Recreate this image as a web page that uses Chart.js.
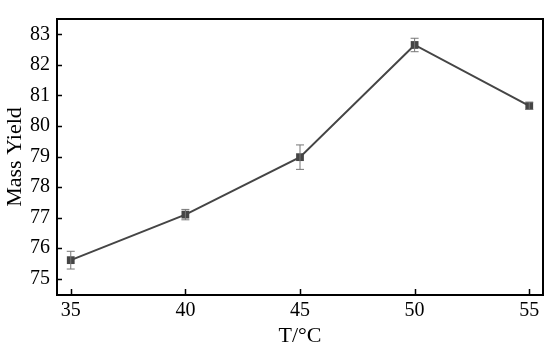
<!DOCTYPE html>
<html>
<head>
<meta charset="utf-8">
<script src="https://cdn.jsdelivr.net/npm/chart.js@4"></script>
<style>
  html, body { margin: 0; padding: 0; background: #fff; }
  #wrap { width: 550px; height: 350px; }
</style>
</head>
<body>
<div id="wrap"><canvas id="yieldChart"></canvas></div>
<script>
var temps = [35, 40, 45, 50, 55];
var massYield = [75.61, 77.1, 78.98, 82.65, 80.66];
var yieldErr = [0.29, 0.17, 0.4, 0.22, 0.12];
var xTicks = [35, 40, 45, 50, 55];
var yTicks = [75, 76, 77, 78, 79, 80, 81, 82, 83];

var fontFamily = "'Liberation Serif', 'Times New Roman', serif";
Chart.defaults.font.family = fontFamily;
Chart.defaults.color = '#000';

// error bars, then the box frame with inward ticks
var framePlugin = {
    id: 'framePlugin',
    afterDatasetsDraw: function (chart) {
        var ctx = chart.ctx;
        var x = chart.scales.x, y = chart.scales.y;
        ctx.save();
        ctx.strokeStyle = '#777';
        ctx.lineWidth = 1;
        for (var i = 0; i < temps.length; i++) {
            var px = x.getPixelForValue(temps[i]);
            var top = y.getPixelForValue(massYield[i] + yieldErr[i]);
            var bot = y.getPixelForValue(massYield[i] - yieldErr[i]);
            ctx.beginPath();
            ctx.moveTo(px, top); ctx.lineTo(px, bot);
            ctx.moveTo(px - 4, top); ctx.lineTo(px + 4, top);
            ctx.moveTo(px - 4, bot); ctx.lineTo(px + 4, bot);
            ctx.stroke();
        }
        ctx.restore();
    },
    afterDraw: function (chart) {
        var ctx = chart.ctx;
        var x = chart.scales.x, y = chart.scales.y;
        var a = chart.chartArea;
        ctx.save();
        ctx.strokeStyle = '#000';
        ctx.lineWidth = 2;
        ctx.strokeRect(a.left, a.top, a.right - a.left, a.bottom - a.top);
        ctx.lineWidth = 1.5;
        ctx.beginPath();
        xTicks.forEach(function (t) {
            var px = Math.round(x.getPixelForValue(t)) + 0.5;
            ctx.moveTo(px, a.bottom); ctx.lineTo(px, a.bottom - 6);
        });
        yTicks.forEach(function (t) {
            var py = Math.round(y.getPixelForValue(t)) + 0.5;
            ctx.moveTo(a.left, py); ctx.lineTo(a.left + 5, py);
        });
        ctx.stroke();
        ctx.restore();
    }
};

var ctx = document.getElementById('yieldChart').getContext('2d');
var chart = new Chart(ctx, {
    type: 'line',
    data: {
        datasets: [{
            label: 'Mass Yield',
            data: temps.map(function (t, i) { return { x: t, y: massYield[i] }; }),
            borderColor: '#454545',
            backgroundColor: '#454545',
            borderWidth: 2,
            pointStyle: 'rect',
            pointRadius: 5.5,
            pointBorderWidth: 0,
            tension: 0
        }]
    },
    options: {
        responsive: true,
        maintainAspectRatio: false,
        animation: false,
        layout: { padding: { top: 10, right: 7, left: 0, bottom: 0 } },
        plugins: {
            legend: { display: false },
            tooltip: { enabled: false }
        },
        scales: {
            x: {
                type: 'linear',
                min: 34.4,
                max: 55.6,
                afterBuildTicks: function (scale) {
                    scale.ticks = xTicks.map(function (v) { return { value: v }; });
                },
                grid: { display: false, drawTicks: false },
                border: { display: false },
                ticks: {
                    color: '#000',
                    padding: 4,
                    font: { family: fontFamily, size: 20 }
                },
                title: {
                    display: true,
                    text: 'T/°C',
                    color: '#000',
                    padding: { top: 0, bottom: 1 },
                    font: { family: fontFamily, size: 22 }
                },
                afterFit: function (scale) { scale.height = 55; }
            },
            y: {
                min: 74.47,
                max: 83.5,
                afterBuildTicks: function (scale) {
                    scale.ticks = yTicks.map(function (v) { return { value: v }; });
                },
                grid: { display: false, drawTicks: false },
                border: { display: false },
                ticks: {
                    color: '#000',
                    padding: 7,
                    font: { family: fontFamily, size: 20 }
                },
                title: {
                    display: true,
                    text: 'Mass Yield',
                    color: '#000',
                    padding: { top: 2.5, bottom: 0 },
                    font: { family: fontFamily, size: 22 }
                },
                afterFit: function (scale) { scale.width = 57; }
            }
        }
    },
    plugins: [framePlugin]
});
</script>
</body>
</html>
